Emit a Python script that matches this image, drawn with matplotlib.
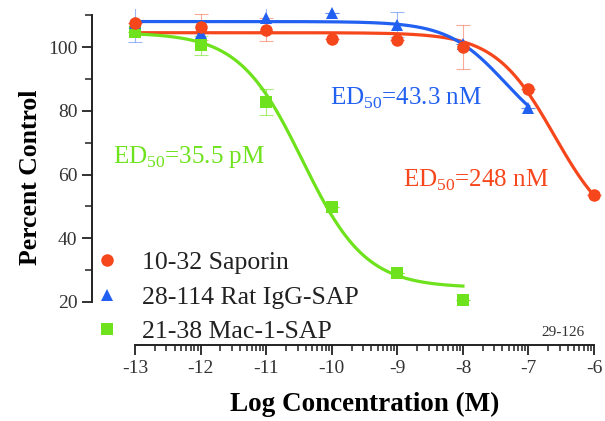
import numpy as np
import matplotlib.pyplot as plt
from matplotlib.lines import Line2D

plt.rcParams['font.family'] = ['Liberation Serif', 'DejaVu Serif']
plt.rcParams['mathtext.fontset'] = 'custom'
plt.rcParams['mathtext.rm'] = 'Liberation Serif'
plt.rcParams['axes.unicode_minus'] = False

# measured points (log M, percent control)
log_conc = [-13, -12, -11, -10, -9, -8, -7, -6]

sap_y = [107.5, 106.3, 105.5, 102.5, 102.2, 100.0, 86.8, 53.5]
sap_err = [0, 4, 3.5, 0, 0, 7, 0, 0]

igg_x = [-13, -12, -11, -10, -9, -8, -7]
igg_y = [107.5, 104.4, 109.0, 110.6, 107.0, 101.0, 81.0]
igg_err = [6, 0, 4, 0, 4, 0, 0]

mac_x = [-13, -12, -11, -10, -9, -8]
mac_y = [104.8, 100.6, 82.8, 49.8, 29.0, 20.6]
mac_err = [0, 3, 4, 0, 0, 0]

# fitted sigmoid parameters: top, bottom, log ED50, hill slope, x range
sap_fit = (104.5, 40.0, -6.606, 0.96, -13, -6)
igg_fit = (108.0, 70.0, -7.364, 1.0, -13, -7)
mac_fit = (104.5, 24.5, -10.45, 0.9, -13, -8)

labels = ['10-32 Saporin', '28-114 Rat IgG-SAP', '21-38 Mac-1-SAP']
ed50_text = [r'ED$_{50}$=248 nM', r'ED$_{50}$=43.3 nM', r'ED$_{50}$=35.5 pM']

RED = '#f5461c'
BLUE = '#2160f0'
GREEN = '#6ee21c'


def curve(p):
    top, bot, c, h, x0, x1 = p
    xs = np.linspace(x0, x1, 300)
    return xs, bot + (top - bot) / (1 + 10 ** ((xs - c) * h))


def main():
    fig = plt.figure(figsize=(6.05, 4.21), dpi=100)
    ax = fig.add_axes([0.152, 0.1805, 0.8407, 0.7986])

    for p, col in [(sap_fit, RED), (igg_fit, BLUE), (mac_fit, GREEN)]:
        xs, ys = curve(p)
        ax.plot(xs, ys, color=col, lw=2.3, zorder=3, clip_on=False)

    ax.errorbar(log_conc, sap_y, yerr=sap_err, fmt='none', ecolor=RED, alpha=0.45,
                elinewidth=0.8, capsize=5, capthick=0.8, zorder=2)
    ax.errorbar(igg_x, igg_y, yerr=igg_err, fmt='none', ecolor=BLUE, alpha=0.45,
                elinewidth=0.8, capsize=5, capthick=0.8, zorder=2)
    ax.errorbar(mac_x, mac_y, yerr=mac_err, fmt='none', ecolor=GREEN, alpha=0.6,
                elinewidth=0.8, capsize=5, capthick=0.8, zorder=2)

    ax.plot(mac_x, mac_y, 's', color=GREEN, ms=8.5, mew=0, zorder=4, clip_on=False)
    ax.plot(igg_x, igg_y, '^', color=BLUE, ms=8.5, mew=0, zorder=5, clip_on=False)
    ax.plot(log_conc, sap_y, 'o', color=RED, ms=9, mew=0, zorder=6, clip_on=False)

    ax.set_xlim(-13.66, -5.9)
    ax.set_ylim(6.5, 112)
    for s in ['top', 'right']:
        ax.spines[s].set_visible(False)
    ax.spines['left'].set_bounds(20, 110)
    ax.spines['bottom'].set_bounds(-13, -6)
    for s in ['left', 'bottom']:
        ax.spines[s].set_linewidth(1.4)
        ax.spines[s].set_color('#222222')

    ax.set_yticks([20, 40, 60, 80, 100])
    ax.set_yticks([30, 50, 70, 90, 110], minor=True)
    ax.set_xticks(range(-13, -5))
    minor = [d + np.log10(m) for d in range(-13, -6) for m in range(2, 10)]
    ax.set_xticks(minor, minor=True)
    ax.tick_params(which='major', length=7, width=1.3, color='#222222',
                   labelsize=14, labelcolor='#333333')
    ax.tick_params(which='minor', length=5, width=1.1, color='#222222')
    ax.tick_params(axis='x', which='minor', length=4)

    ax.set_xlabel('Log Concentration (M)', fontsize=19.5, fontweight='bold')
    ax.xaxis.set_label_coords((-9.5 + 13.66) / 7.76, -0.14)
    ax.set_ylabel('Percent Control', fontsize=18.5, fontweight='bold', labelpad=4)

    ax.text(-8.91, 58.2, ed50_text[0], color=RED, fontsize=18, ha='left', va='center')
    ax.text(-10.03, 84.0, ed50_text[1], color=BLUE, fontsize=18, ha='left', va='center')
    ax.text(-13.34, 65.5, ed50_text[2], color=GREEN, fontsize=18, ha='left', va='center')
    ax.text(-6.15, 10.5, '29-126', color='#333333', fontsize=11, ha='right', va='center')

    handles = [Line2D([], [], ls='none', marker='o', color=RED, ms=9, mew=0),
               Line2D([], [], ls='none', marker='^', color=BLUE, ms=8.5, mew=0),
               Line2D([], [], ls='none', marker='s', color=GREEN, ms=8.5, mew=0)]
    leg = ax.legend(handles, labels, loc='lower left', bbox_to_anchor=(-0.015, -0.025),
                    frameon=False, fontsize=18.5, handlelength=1.0,
                    handletextpad=0.85, labelspacing=0.45, borderaxespad=0.0)
    for t in leg.get_texts():
        t.set_color('#222222')

    fig.savefig('out.png', dpi=100)


if __name__ == '__main__':
    main()
